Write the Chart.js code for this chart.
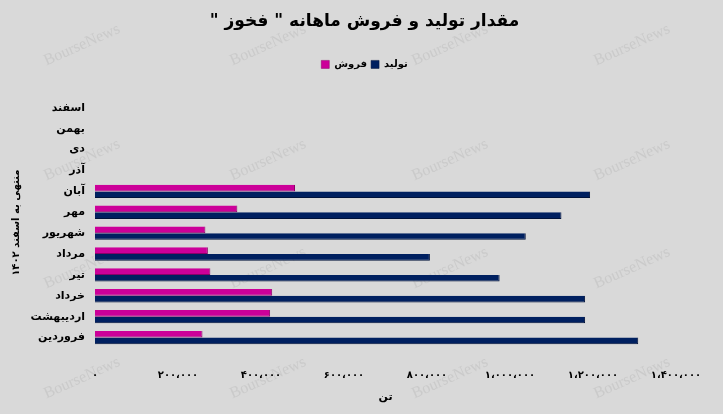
<!DOCTYPE html>
<html>
<head>
<meta charset="utf-8">
<script src="https://cdn.jsdelivr.net/npm/chart.js@4"></script>
<style>
  body { margin: 0; background: #d9d9d9; }
  .wrap { width: 723px; height: 414px; }
</style>
</head>
<body>
<div class="wrap"><canvas id="prod-sales"></canvas></div>
<script>
// months, top to bottom as shown
const months = ['اسفند', 'بهمن', 'دی', 'آذر', 'آبان', 'مهر', 'شهریور', 'مرداد', 'تیر', 'خرداد', 'اردیبهشت', 'فروردین'];
const sales = [null, null, null, null, 482000, 343000, 266000, 272000, 278000, 427000, 422000, 259000];
const production = [null, null, null, null, 1193000, 1124000, 1038000, 807000, 975000, 1181000, 1181000, 1309000];
const xTicks = ['۰', '۲۰۰،۰۰۰', '۴۰۰،۰۰۰', '۶۰۰،۰۰۰', '۸۰۰،۰۰۰', '۱،۰۰۰،۰۰۰', '۱،۲۰۰،۰۰۰', '۱،۴۰۰،۰۰۰'];

const font = 'DejaVu Sans';

// faint site watermark behind the chart
const watermark = {
  id: 'watermark',
  beforeDraw(chart) {
    const c = chart.ctx;
    c.save();
    c.font = '16px "Liberation Serif"';
    c.fillStyle = 'rgba(170,170,170,0.3)';
    c.textAlign = 'center';
    c.textBaseline = 'middle';
    [45, 160, 268, 378].forEach(y => {
      [82, 268, 450, 632].forEach(x => {
        c.save();
        c.translate(x, y);
        c.rotate(-0.42);
        c.fillText('BourseNews', 0, 0);
        c.restore();
      });
    });
    c.restore();
  }
};

// extra room under the legend
const legendGap = {
  id: 'legendGap',
  beforeInit(chart) {
    const fit = chart.legend.fit;
    chart.legend.fit = function () {
      fit.bind(chart.legend)();
      this.height += 18;
    };
  }
};

const ctx = document.getElementById('prod-sales').getContext('2d');
new Chart(ctx, {
  type: 'bar',
  data: {
    labels: months,
    datasets: [{
      label: 'فروش',
      data: sales,
      backgroundColor: '#cc0099',
      borderColor: '#8a0068',
      borderWidth: { right: 1, bottom: 1 }
    }, {
      label: 'تولید',
      data: production,
      backgroundColor: '#002060',
      borderColor: '#00123a',
      borderWidth: { right: 1, bottom: 1 }
    }]
  },
  plugins: [watermark, legendGap],
  options: {
    indexAxis: 'y',
    responsive: true,
    maintainAspectRatio: false,
    animation: false,
    layout: { padding: { left: 6, right: 0, top: 8, bottom: 6 } },
    datasets: { bar: { categoryPercentage: 0.64, barPercentage: 1 } },
    plugins: {
      title: {
        display: true,
        text: '\u202B' + 'مقدار تولید و فروش ماهانه " فخوز "' + '\u202C',
        color: '#000',
        font: { family: font, size: 17, weight: 'bold' },
        padding: { top: 3, bottom: 24 }
      },
      legend: {
        labels: {
          color: '#000',
          font: { family: font, size: 10, weight: 'bold' },
          boxWidth: 8,
          boxHeight: 8,
          padding: 4
        }
      },
      tooltip: { enabled: false }
    },
    scales: {
      x: {
        min: 0,
        max: 1400000,
        grid: { display: false, drawTicks: false },
        border: { display: false },
        ticks: {
          stepSize: 200000,
          color: '#000',
          font: { family: font, size: 10, weight: 'bold' },
          padding: 21,
          maxRotation: 0,
          callback: (v, i) => xTicks[i]
        },
        title: {
          display: true,
          text: 'تن',
          color: '#000',
          font: { family: font, size: 11, weight: 'bold' },
          padding: { top: 4, bottom: 4 }
        },
        afterFit: (scale) => { scale.height = 60; }
      },
      y: {
        grid: { display: false, drawTicks: false },
        border: { display: false },
        ticks: {
          color: '#000',
          font: { family: font, size: 11, weight: 'bold' },
          padding: 10
        },
        title: {
          display: true,
          text: 'منتهی به اسفند ۱۴۰۲',
          color: '#000',
          font: { family: font, size: 10, weight: 'bold' }
        },
        afterFit: (scale) => { scale.width = 89; }
      },
      // empty strip on the right so the plot ends where the reference does
      yRight: {
        type: 'category',
        position: 'right',
        grid: { display: false, drawTicks: false },
        border: { display: false },
        ticks: { display: false },
        afterFit: (scale) => { scale.width = 47; }
      }
    }
  }
});
</script>
</body>
</html>
